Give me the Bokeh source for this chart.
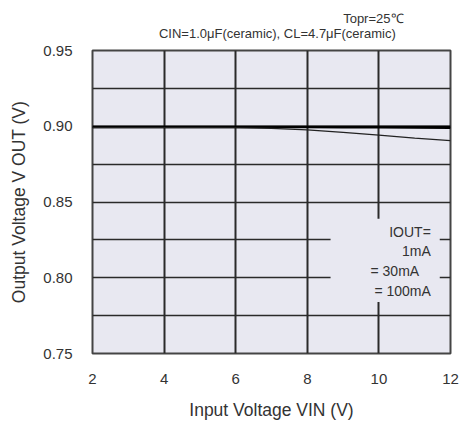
from bokeh.plotting import figure
from bokeh.models import FixedTicker, Range1d, Label, BoxAnnotation, Title, CustomJSTickFormatter
from bokeh.embed import file_html
from bokeh.resources import INLINE

vin = [2, 3, 4, 5, 6, 7, 8, 9, 10, 11, 12]
vout_1mA = [0.8996, 0.8996, 0.8996, 0.8996, 0.8996, 0.8996, 0.8996, 0.8996, 0.8996, 0.8996, 0.8996]
vout_30mA = [0.8993, 0.8993, 0.8993, 0.8993, 0.8993, 0.8993, 0.8993, 0.8992, 0.8991, 0.8990, 0.8989]
vout_100mA = [0.8991, 0.8991, 0.8991, 0.8991, 0.8990, 0.8986, 0.8976, 0.8960, 0.8942, 0.8922, 0.8905]

x_ticks = [2, 4, 6, 8, 10, 12]
y_ticks = [0.75, 0.80, 0.85, 0.90, 0.95]
y_minor = [0.775, 0.825, 0.875, 0.925]

legend_lines = ["IOUT=", "1mA", "=    30mA", "= 100mA"]
legend_y = [0.8305, 0.8175, 0.8045, 0.7915]

header_lines = ["Topr=25℃", "CIN=1.0μF(ceramic), CL=4.7μF(ceramic)"]

FONT = "Liberation Sans"
GRID = "#2a2a2a"

p = figure(width=462, height=424, output_backend="svg", toolbar_location=None,
           x_range=Range1d(2, 12), y_range=Range1d(0.75, 0.95),
           min_border_left=92, min_border_top=50, min_border_bottom=71, min_border_right=12)
p.background_fill_color = "#e8e8f1"
p.border_fill_color = "white"
p.outline_line_color = "#444444"
p.outline_line_width = 2

p.xaxis.ticker = FixedTicker(ticks=x_ticks)
p.yaxis.ticker = FixedTicker(ticks=y_ticks, minor_ticks=y_minor)
p.yaxis.formatter = CustomJSTickFormatter(code="return tick.toFixed(2);")

for ax in (p.xaxis[0], p.yaxis[0]):
    ax.axis_line_color = None
    ax.major_tick_line_color = None
    ax.minor_tick_line_color = None
    ax.major_label_text_font = FONT
    ax.major_label_text_font_size = "15px"
    ax.major_label_text_color = "#333333"
    ax.axis_label_text_font = FONT
    ax.axis_label_text_font_size = "17.5px"
    ax.axis_label_text_font_style = "normal"
    ax.axis_label_text_color = "#333333"

p.xaxis.axis_label = "Input Voltage VIN (V)"
p.yaxis.axis_label = "Output Voltage V OUT (V)"
p.xaxis.major_label_standoff = 14
p.xaxis.axis_label_standoff = 13
p.yaxis.major_label_standoff = 14
p.yaxis.axis_label_standoff = 11

p.xgrid.grid_line_color = GRID
p.xgrid.grid_line_width = 2
p.ygrid.grid_line_color = GRID
p.ygrid.grid_line_width = 1.5
p.ygrid.minor_grid_line_color = GRID
p.ygrid.minor_grid_line_width = 1.5

p.line(vin, vout_1mA, line_color="black", line_width=2.5)
p.line(vin, vout_30mA, line_color="black", line_width=2)
p.line(vin, vout_100mA, line_color="#222222", line_width=1.2)

# legend area
p.add_layout(BoxAnnotation(left=8.65, right=11.7, bottom=0.784, top=0.839,
                           fill_color="#e8e8f1", fill_alpha=1, line_color=None))
for t, y in zip(legend_lines, legend_y):
    p.add_layout(Label(x=11.45, y=y, text=t, text_align="right", text_baseline="middle",
                       text_font=FONT, text_font_size="14px", text_color="#333333"))

# header text: two lines, the first pushed to the right edge of the block
pad = "\u00a0" * 51
hdr = Title(text=pad + header_lines[0] + "\n" + header_lines[1], align="right", offset=47,
            vertical_align="top",
            text_font=FONT, text_font_size="13px", text_font_style="normal",
            text_color="#333333", text_line_height=1.05, standoff=14)
p.add_layout(hdr, "above")

open("out.html", "w").write(file_html(p, INLINE))
